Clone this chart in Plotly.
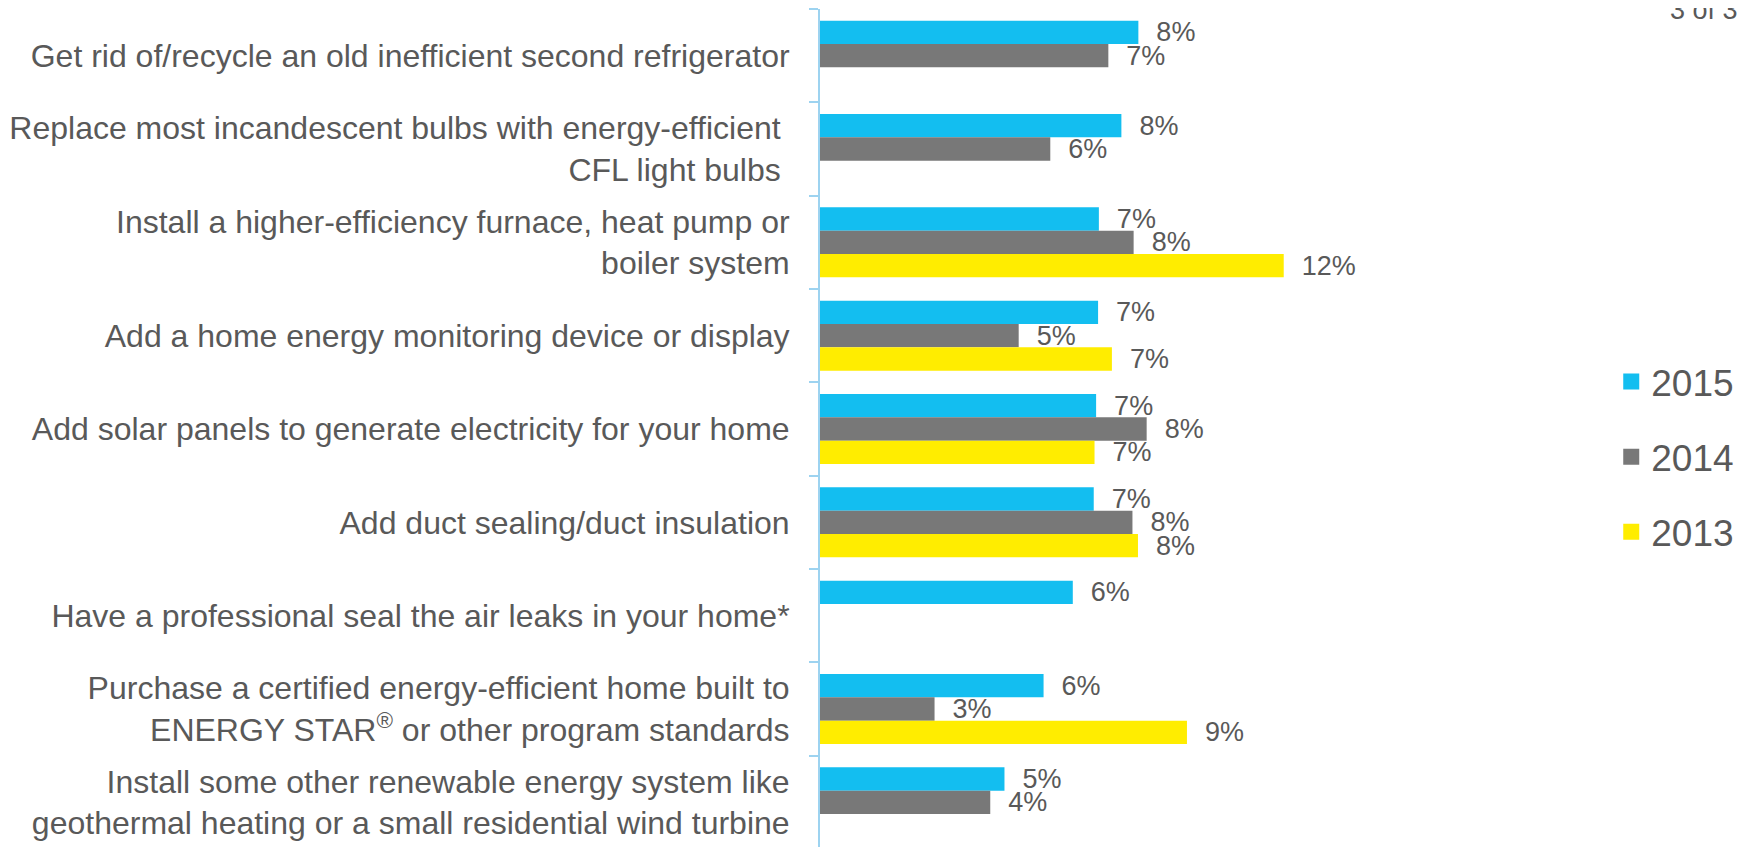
import plotly.graph_objects as go

categories = [
    "Get rid of/recycle an old inefficient second refrigerator",
    "Replace most incandescent bulbs with energy-efficient\u00a0<br>CFL light bulbs\u00a0",
    "Install a higher-efficiency furnace, heat pump or<br>boiler system",
    "Add a home energy monitoring device or display",
    "Add solar panels to generate electricity for your home",
    "Add duct sealing/duct insulation",
    "Have a professional seal the air leaks in your home*",
    "Purchase a certified energy-efficient home built to<br>ENERGY STAR<sup>®</sup> or other program standards",
    "Install some other renewable energy system like<br>geothermal heating or a small residential wind turbine",
]
series_names = ["2015", "2014", "2013"]
v2015 = [0.0806, 0.0763, 0.0706, 0.0704, 0.0699, 0.0693, 0.0640, 0.0566, 0.0467]
v2014 = [0.0730, 0.0583, 0.0794, 0.0503, 0.0827, 0.0791, None, 0.0290, 0.0431]
v2013 = [None, None, 0.1174, 0.0739, 0.0695, 0.0805, None, 0.0929, None]
page_label = "3 of 3"

colors = ["#13BEF0", "#787878", "#FFED00"]
text_color = "#595959"
font_family = "Liberation Sans, Arial, sans-serif"

L, T, PW, PH = 809, 1, 635, 840

fig = go.Figure()
for name, vals, col in zip(series_names, [v2015, v2014, v2013], colors):
    fig.add_trace(go.Bar(
        y=categories, x=vals, name=name, orientation="h", legendgroup=name,
        marker=dict(color=col, line=dict(width=0)),
        texttemplate="\u00a0\u00a0%{x:.0%}", textposition="outside",
        textfont=dict(size=27, color=text_color, family=font_family),
        cliponaxis=False, constraintext="none", showlegend=False,
    ))
    # legend entry
    fig.add_trace(go.Scatter(
        x=[None], y=[None], mode="markers", name=name, legendgroup=name,
        marker=dict(symbol="square", size=16, color=col),
        showlegend=True,
    ))

fig.update_layout(
    width=1753, height=847,
    margin=dict(l=L, r=1753 - L - PW, t=T, b=847 - T - PH),
    paper_bgcolor="white", plot_bgcolor="white",
    barmode="group", bargap=0.25, bargroupgap=0,
    font=dict(family=font_family, color=text_color, size=27),
    legend=dict(
        x=(1604 - L) / PW, xanchor="left", y=1 - (449 - T) / PH, yanchor="middle",
        font=dict(size=37, color=text_color, family=font_family),
        traceorder="grouped", tracegroupgap=24, bgcolor="rgba(0,0,0,0)",
    ),
    annotations=[dict(
        text=page_label, xref="paper", yref="paper",
        x=(1733 - L) / PW, y=1 - (2 - T) / PH,
        xanchor="right", yanchor="middle", showarrow=False,
        font=dict(size=27, color=text_color, family=font_family),
    )],
)
fig.update_xaxes(range=[0, 0.16], visible=False, showgrid=False, zeroline=False)
fig.update_yaxes(
    autorange="reversed", type="category",
    showline=True, linecolor="#9DD3F0", linewidth=2,
    ticks="outside", tickson="boundaries", ticklen=9, tickcolor="#9DD3F0", tickwidth=2,
    ticklabelstandoff=22,
    tickfont=dict(size=32, color=text_color, family=font_family),
    showgrid=False, zeroline=False,
)

fig.write_html("out.html")
